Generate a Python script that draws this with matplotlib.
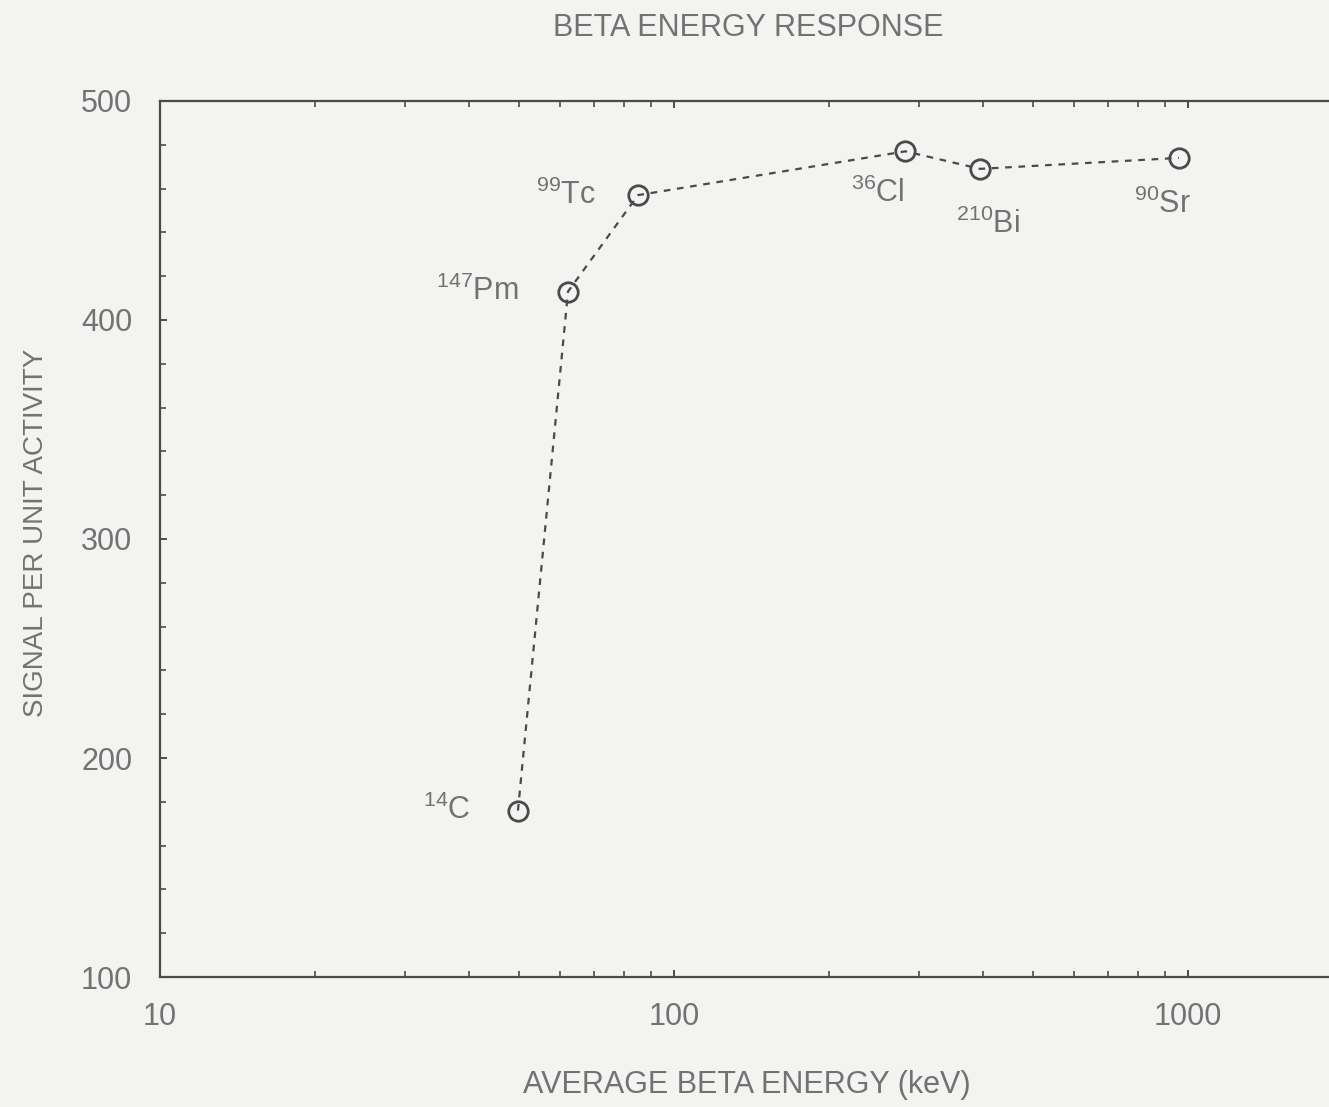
import matplotlib
matplotlib.use("Agg")
import matplotlib.pyplot as plt
from matplotlib.ticker import FixedLocator, LogLocator, NullFormatter, MultipleLocator

# Beta emitters: average beta energy (keV) and detector signal per unit activity
isotopes = [r"$^{14}$C", r"$^{147}$Pm", r"$^{99}$Tc", r"$^{36}$Cl", r"$^{210}$Bi", r"$^{90}$Sr"]
energy_kev = [49.7, 62.2, 85.1, 282, 394, 960]
signal = [176, 413, 457, 477, 469, 474]

x_ticks = [10, 100, 1000]
x_tick_labels = ["10", "100", "1000"]
y_ticks = [100, 200, 300, 400, 500]

plt.rcParams["font.family"] = ["Liberation Sans", "DejaVu Sans"]
plt.rcParams["mathtext.fontset"] = "custom"
plt.rcParams["mathtext.rm"] = "Liberation Sans"
plt.rcParams["mathtext.default"] = "rm"

text_col = "#727272"
line_col = "#4a4a4a"
bg = "#f3f3f2"

fig = plt.figure(figsize=(13.29, 11.07), dpi=100, facecolor=bg)
ax = fig.add_axes([0.1204, 0.1174, 1.1603, 0.7914], facecolor=bg)

ax.plot(energy_kev, signal, linestyle=(0, (3, 3)), color=line_col, linewidth=1.6,
        marker="o", markersize=14, markerfacecolor="none",
        markeredgecolor=line_col, markeredgewidth=2.0)

ax.set_xscale("log")
ax.set_xlim(10, 10000)
ax.set_ylim(100, 500)

ax.xaxis.set_major_locator(FixedLocator(x_ticks))
ax.set_xticklabels(x_tick_labels)
ax.xaxis.set_minor_locator(LogLocator(base=10, subs=range(2, 10)))
ax.xaxis.set_minor_formatter(NullFormatter())
ax.yaxis.set_major_locator(FixedLocator(y_ticks))
ax.yaxis.set_minor_locator(MultipleLocator(20))

for s in ["left", "bottom", "top"]:
    ax.spines[s].set_color(line_col)
    ax.spines[s].set_linewidth(1.6)
ax.spines["right"].set_visible(False)

ax.tick_params(which="both", direction="in", top=True, right=False,
               color=line_col, labelcolor=text_col, labelsize=22)
ax.tick_params(which="major", length=5, width=1.4)
ax.tick_params(which="minor", length=4, width=1.2)
ax.tick_params(axis="y", pad=20)
ax.tick_params(axis="x", pad=18)

# isotope labels placed around each marker (offsets in pixels)
offsets = [(-47, 0, "right"), (-50, 0, "right"), (-42, 0, "right"),
           (-28, -42, "center"), (8, -55, "center"), (-16, -46, "center")]
for name, x, y, (dx, dy, ha) in zip(isotopes, energy_kev, signal, offsets):
    ax.annotate(name, (x, y), xytext=(dx, dy), textcoords="offset pixels",
                ha=ha, va="center", fontsize=22, color=text_col)

fig.text(0.563, 0.975, "BETA ENERGY RESPONSE", ha="center", va="center",
         fontsize=22, color=text_col)
fig.text(0.562, 0.020, "AVERAGE BETA ENERGY (keV)", ha="center", va="center",
         fontsize=22, color=text_col)
fig.text(0.027, 0.519, "SIGNAL PER UNIT ACTIVITY", ha="center", va="center",
         rotation=90, fontsize=20, color=text_col)

fig.savefig("out.png", dpi=100, facecolor=bg)
